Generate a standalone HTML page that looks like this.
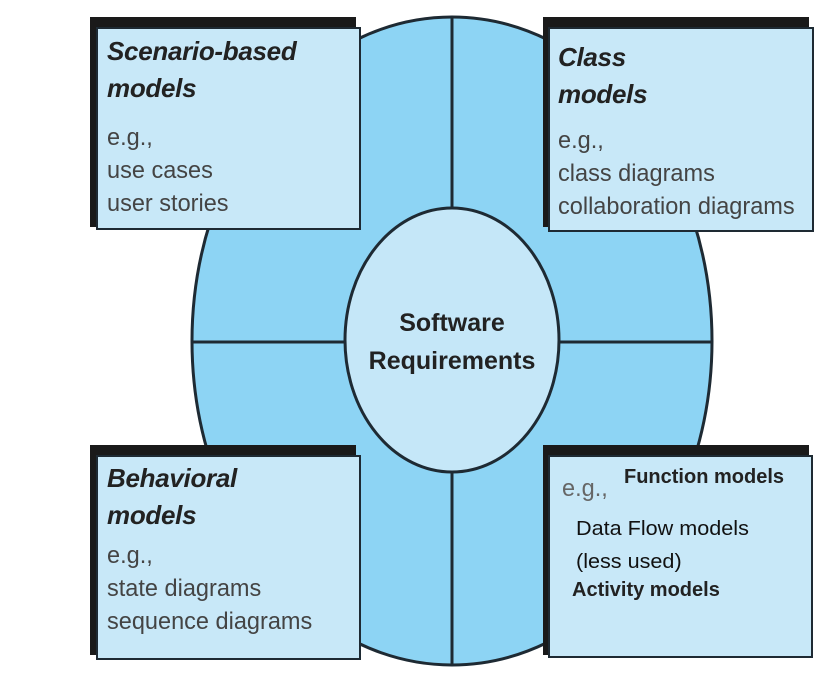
<!DOCTYPE html>
<html><head><meta charset="utf-8"><style>
body{margin:0;width:834px;height:676px;background:#fff;overflow:hidden;position:relative;font-family:"Liberation Sans",sans-serif}
.sh{position:absolute;background:#1a1a1a}
.bx{position:absolute;background:#c8e8f8;border:2px solid #1e2a33;box-sizing:border-box}
.t{position:absolute;font-style:italic;font-weight:bold;font-size:26px;line-height:37px;color:#222;letter-spacing:-0.3px}
.s{position:absolute;font-size:24px;line-height:33px;color:#444;transform:scaleX(0.98);transform-origin:left;white-space:nowrap}
</style></head><body>
<svg width="834" height="676" style="position:absolute;left:0;top:0">
<ellipse cx="452" cy="341" rx="260" ry="324" fill="#8dd4f4" stroke="#1e2a33" stroke-width="3"/>
<line x1="452" y1="17" x2="452" y2="665" stroke="#1e2a33" stroke-width="3"/>
<line x1="192" y1="342" x2="712" y2="342" stroke="#1e2a33" stroke-width="3"/>
<ellipse cx="452" cy="340" rx="107" ry="132" fill="#c5e7f8" stroke="#1e2a33" stroke-width="3"/>
<text x="452" y="331" text-anchor="middle" font-family="Liberation Sans" font-weight="bold" font-size="25" fill="#222">Software</text>
<text x="452" y="369" text-anchor="middle" font-family="Liberation Sans" font-weight="bold" font-size="25" fill="#222">Requirements</text>
</svg>
<div class="sh" style="left:90px;top:17px;width:266px;height:210px"></div>
<div class="bx" style="left:96px;top:27px;width:265px;height:203px"></div>
<div class="t" style="left:107px;top:33px">Scenario-based<br>models</div>
<div class="s" style="left:107px;top:121px">e.g.,<br>use cases<br>user stories</div>

<div class="sh" style="left:543px;top:17px;width:266px;height:210px"></div>
<div class="bx" style="left:548px;top:27px;width:266px;height:205px"></div>
<div class="t" style="left:558px;top:39px">Class<br>models</div>
<div class="s" style="left:558px;top:124px">e.g.,<br>class diagrams<br>collaboration diagrams</div>

<div class="sh" style="left:90px;top:445px;width:266px;height:210px"></div>
<div class="bx" style="left:96px;top:455px;width:265px;height:205px"></div>
<div class="t" style="left:107px;top:460px">Behavioral<br>models</div>
<div class="s" style="left:107px;top:539px">e.g.,<br>state diagrams<br>sequence diagrams</div>

<div class="sh" style="left:543px;top:445px;width:266px;height:210px"></div>
<div class="bx" style="left:548px;top:455px;width:265px;height:203px"></div>
<div class="s" style="left:562px;top:472px;color:#666">e.g.,</div>
<div style="position:absolute;left:624px;top:466px;font-weight:bold;font-size:20px;color:#222;white-space:nowrap">Function models</div>
<div style="position:absolute;left:576px;top:513px;font-size:20px;line-height:33px;color:#111;white-space:nowrap;transform:scaleX(1.08);transform-origin:left">Data Flow models<br>(less used)</div>
<div style="position:absolute;left:572px;top:579px;font-weight:bold;font-size:20px;color:#222;white-space:nowrap">Activity models</div>
</body></html>
